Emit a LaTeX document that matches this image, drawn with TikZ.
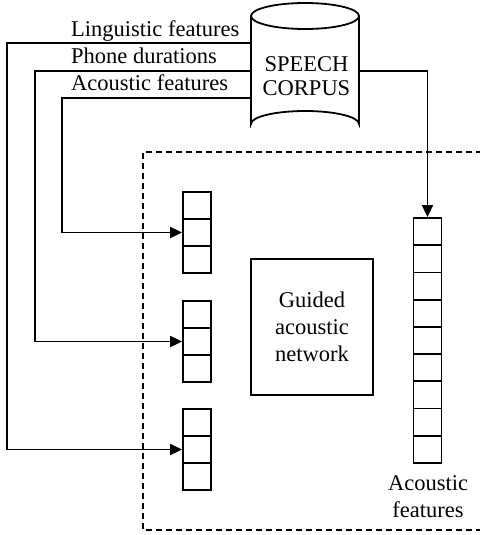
\documentclass[tikz,border=0pt]{standalone}
\usepackage{fontspec}
\setmainfont{Liberation Serif}
\usetikzlibrary{arrows.meta}
\begin{document}
\begin{tikzpicture}[x=1pt,y=-1pt,
  ln/.style={line width=1.8pt},
  arr/.style={ln,-{Triangle[length=12pt,width=11pt]}},
  cell/.style={draw,ln,minimum width=28pt,minimum height=27pt,inner sep=0pt},
  bcell/.style={draw,ln,minimum width=28pt,minimum height=27.2pt,inner sep=0pt},
  lbl/.style={inner sep=0pt,font=\fontsize{22.5}{27}\selectfont}]
\useasboundingbox (0,0) rectangle (479,535);
% dashed frame
\draw[ln,dash pattern=on 6pt off 4pt] (482,152) -- (143,152) -- (143,530) -- (482,530);
% cylinder
\draw[ln,fill=white] (251,16) -- (251,124) arc[start angle=180,end angle=360,x radius=54,y radius=13] -- (359,16);
\draw[ln] (305,16) ellipse[x radius=54,y radius=13];
\node[minimum width=108pt,minimum height=108pt,inner sep=0pt] (corpus) at (305,71) {};
\node[lbl,align=center,anchor=base,font=\fontsize{22.5}{24}\selectfont] (corpustxt) at (306.5,95.7) {SPEECH\\CORPUS};
% labels
\node[lbl,anchor=base west] (l1) at (71,36.7) {Linguistic features};
\node[lbl,anchor=base west] (l2) at (71,63.5) {Phone durations};
\node[lbl,anchor=base west] (l3) at (71,90.7) {Acoustic features};
% small stacks
\foreach \s/\t in {1/192,2/301,3/409}{
  \node[cell] (s\s a) at (197,\t+13.5) {};
  \node[cell] (s\s b) at (197,\t+40.5) {};
  \node[cell] (s\s c) at (197,\t+67.5) {};
}
% big stack
\foreach \i in {1,...,9}{
  \node[bcell] (b\i) at (427.5,218+27.2*\i-13.6) {};
}
% guided network
\node[draw,ln,minimum width=122pt,minimum height=136pt,inner sep=0pt] (gan) at (312,327) {};
\node[lbl,align=center,anchor=base] (gantxt) at (312,361.7) {Guided\\acoustic\\network};
\node[lbl,align=center,anchor=base] (outlbl) at (428,517) {Acoustic\\features};
% connectors
\draw[arr] ([yshift=28pt]corpus.west) -- ++(-244,0) |- (s3b.west);
\draw[arr] (corpus.west) -- ++(-216,0) |- (s2b.west);
\draw[arr] ([yshift=-27pt]corpus.west) -- ++(-189,0) |- (s1b.west);
\draw[arr] (corpus.east) -| (b1.north);
\end{tikzpicture}
\end{document}
